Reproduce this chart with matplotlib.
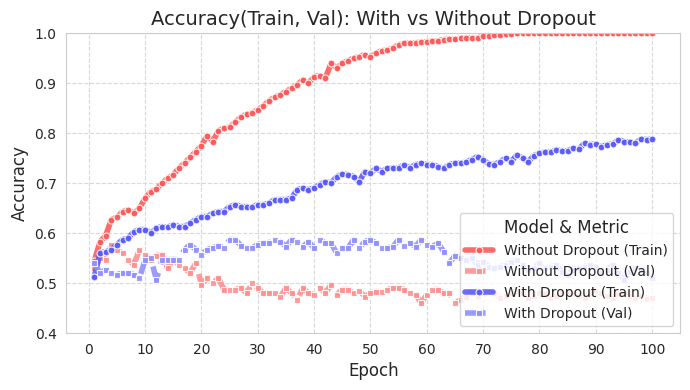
import numpy as np
import matplotlib
matplotlib.use("Agg")
import matplotlib.pyplot as plt
import seaborn as sns

epochs = np.arange(1, 101)

no_drop_train = [
    0.545, 0.583, 0.595, 0.627, 0.632, 0.643, 0.647, 0.640, 0.650, 0.670,
    0.683, 0.688, 0.700, 0.710, 0.717, 0.730, 0.740, 0.752, 0.763, 0.775,
    0.795, 0.783, 0.805, 0.810, 0.812, 0.822, 0.832, 0.838, 0.840, 0.847,
    0.855, 0.865, 0.872, 0.877, 0.883, 0.890, 0.897, 0.907, 0.900, 0.913,
    0.915, 0.910, 0.940, 0.930, 0.940, 0.945, 0.950, 0.953, 0.957, 0.953,
    0.960, 0.965, 0.966, 0.970, 0.977, 0.980, 0.980, 0.981, 0.982, 0.983,
    0.984, 0.985, 0.987, 0.988, 0.988, 0.990, 0.991, 0.990, 0.990, 0.995,
    0.994, 0.997, 0.997, 0.998, 0.999, 1.0, 1.0, 1.0, 1.0, 1.0,
    1.0, 1.0, 1.0, 1.0, 1.0, 1.0, 1.0, 1.0, 1.0, 1.0,
    1.0, 1.0, 1.0, 1.0, 1.0, 1.0, 1.0, 1.0, 1.0, 1.0,
]
no_drop_val = [
    0.530, 0.550, 0.547, 0.577, 0.567, 0.560, 0.547, 0.537, 0.567, 0.557,
    0.547, 0.555, 0.557, 0.530, 0.547, 0.537, 0.530, 0.520, 0.540, 0.497,
    0.510, 0.500, 0.510, 0.487, 0.487, 0.487, 0.490, 0.480, 0.500, 0.490,
    0.480, 0.480, 0.480, 0.473, 0.490, 0.480, 0.467, 0.490, 0.480, 0.477,
    0.490, 0.480, 0.497, 0.477, 0.487, 0.487, 0.480, 0.485, 0.473, 0.480,
    0.483, 0.483, 0.487, 0.490, 0.490, 0.487, 0.480, 0.477, 0.460, 0.477,
    0.487, 0.487, 0.480, 0.480, 0.460, 0.467, 0.473, 0.480, 0.475, 0.480,
    0.485, 0.480, 0.470, 0.475, 0.480, 0.485, 0.480, 0.470, 0.475, 0.480,
    0.478, 0.470, 0.475, 0.480, 0.485, 0.480, 0.475, 0.470, 0.480, 0.485,
    0.480, 0.475, 0.470, 0.478, 0.480, 0.475, 0.470, 0.475, 0.468, 0.470,
]
drop_train = [
    0.513, 0.560, 0.563, 0.567, 0.577, 0.587, 0.590, 0.603, 0.607, 0.607,
    0.600, 0.610, 0.613, 0.612, 0.617, 0.613, 0.613, 0.620, 0.627, 0.633,
    0.633, 0.640, 0.643, 0.643, 0.653, 0.657, 0.653, 0.653, 0.652, 0.657,
    0.657, 0.660, 0.667, 0.667, 0.667, 0.670, 0.687, 0.690, 0.687, 0.690,
    0.697, 0.703, 0.700, 0.713, 0.718, 0.717, 0.713, 0.703, 0.723, 0.720,
    0.730, 0.723, 0.730, 0.730, 0.730, 0.737, 0.730, 0.737, 0.740, 0.737,
    0.737, 0.733, 0.730, 0.737, 0.740, 0.740, 0.742, 0.747, 0.753, 0.747,
    0.738, 0.737, 0.743, 0.750, 0.743, 0.757, 0.750, 0.743, 0.755, 0.760,
    0.762, 0.762, 0.767, 0.764, 0.765, 0.770, 0.768, 0.780, 0.777, 0.778,
    0.773, 0.777, 0.778, 0.787, 0.783, 0.782, 0.780, 0.788, 0.787, 0.788,
]
drop_val = [
    0.540, 0.520, 0.527, 0.520, 0.517, 0.520, 0.520, 0.517, 0.510, 0.547,
    0.550, 0.507, 0.547, 0.547, 0.547, 0.547, 0.567, 0.577, 0.567, 0.557,
    0.567, 0.570, 0.575, 0.570, 0.587, 0.587, 0.575, 0.570, 0.570, 0.577,
    0.580, 0.580, 0.587, 0.583, 0.573, 0.587, 0.583, 0.573, 0.583, 0.570,
    0.587, 0.580, 0.580, 0.560, 0.570, 0.570, 0.587, 0.570, 0.583, 0.587,
    0.580, 0.570, 0.570, 0.573, 0.587, 0.575, 0.580, 0.573, 0.587, 0.577,
    0.573, 0.580, 0.563, 0.540, 0.555, 0.550, 0.547, 0.550, 0.537, 0.543,
    0.533, 0.530, 0.533, 0.537, 0.543, 0.547, 0.537, 0.527, 0.530, 0.540,
    0.530, 0.533, 0.537, 0.523, 0.517, 0.527, 0.530, 0.533, 0.537, 0.533,
    0.520, 0.527, 0.537, 0.520, 0.507, 0.523, 0.530, 0.527, 0.520, 0.510,
]

series = [
    ("Without Dropout (Train)", no_drop_train, "#ff5a5a", "-", "o"),
    ("Without Dropout (Val)", no_drop_val, "#ff9090", "--", "s"),
    ("With Dropout (Train)", drop_train, "#5a5aff", "-", "o"),
    ("With Dropout (Val)", drop_val, "#9090ff", "--", "s"),
]

sns.set_style("whitegrid", {"grid.linestyle": "--", "grid.color": "#d9d9d9"})
plt.rcParams["font.family"] = ["DejaVu Sans"]

fig, ax = plt.subplots(figsize=(6.9, 3.9), dpi=100)

for name, vals, col, ls, mk in series:
    ax.plot(epochs, vals, color=col, linestyle=ls, linewidth=4, marker=mk,
            markersize=5, markeredgecolor="white", markeredgewidth=0.8,
            alpha=0.9, label=name)

ax.set_xlim(-4, 105)
ax.set_ylim(0.4, 1.0)
ax.set_xticks(np.arange(0, 101, 10))
ax.set_title("Accuracy(Train, Val): With vs Without Dropout", fontsize=14)
ax.set_xlabel("Epoch", fontsize=12)
ax.set_ylabel("Accuracy", fontsize=12)
ax.tick_params(labelsize=10)
ax.legend(title="Model & Metric", loc="lower right", fontsize=10,
          title_fontsize=12, framealpha=0.8)

fig.subplots_adjust(left=0.096, right=0.986, top=0.915, bottom=0.146)
plt.savefig("out.png")
